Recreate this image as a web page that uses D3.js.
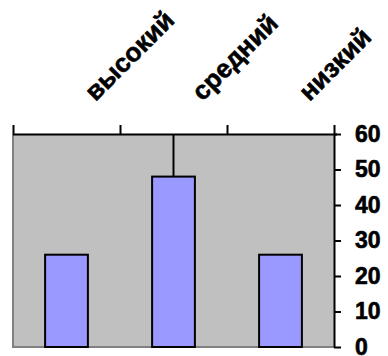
<!DOCTYPE html>
<html>
<head>
<meta charset="utf-8">
<script src="https://cdn.jsdelivr.net/npm/d3@7"></script>
<style>
  html, body { margin: 0; padding: 0; background: #fff; }
  svg { display: block; }
</style>
</head>
<body>
<svg id="chart" width="388" height="356"></svg>
<script>
// Уровни и доли (в процентах)
const categories = ["высокий", "средний", "низкий"];
const values = [26, 48, 26];
const errorPlus = [0, 12, 0];
const yTicks = [0, 10, 20, 30, 40, 50, 60];

const FONT = "Liberation Sans";
const plot = { left: 13, right: 334, top: 134, bottom: 347 };

const svg = d3.select("#chart");

const x = d3.scaleBand()
  .domain(categories)
  .range([plot.left, plot.right])
  .paddingInner(0.6)
  .paddingOuter(0.3);

const y = d3.scaleLinear()
  .domain([0, 60])
  .range([plot.bottom, plot.top]);

// Plot area background
svg.append("rect")
  .attr("x", plot.left)
  .attr("y", plot.top)
  .attr("width", plot.right - plot.left)
  .attr("height", plot.bottom - plot.top)
  .attr("fill", "#c0c0c0");

// Gray frame on left and bottom edges
svg.append("path")
  .attr("d", `M${plot.left},${plot.top} V${plot.bottom} H${plot.right}`)
  .attr("fill", "none")
  .attr("stroke", "#808080")
  .attr("stroke-width", 2);

// Bars
svg.append("g").selectAll("rect")
  .data(categories)
  .join("rect")
  .attr("x", d => x(d))
  .attr("y", (d, i) => y(values[i]))
  .attr("width", x.bandwidth())
  .attr("height", (d, i) => y(0) - y(values[i]))
  .attr("fill", "#9999ff")
  .attr("stroke", "#000")
  .attr("stroke-width", 2);

// Upper error bars, clipped at the top of the plot area
const withErr = categories.map((c, i) => ({ c, v: values[i], e: errorPlus[i] })).filter(d => d.e > 0);
svg.append("g").selectAll("line")
  .data(withErr)
  .join("line")
  .attr("x1", d => x(d.c) + x.bandwidth() / 2)
  .attr("x2", d => x(d.c) + x.bandwidth() / 2)
  .attr("y1", d => y(d.v))
  .attr("y2", d => y(Math.min(60, d.v + d.e)))
  .attr("stroke", "#000")
  .attr("stroke-width", 2);

// Top category axis: tick marks at band boundaries
const edge = d3.scaleLinear().domain([0, categories.length]).range([plot.left, plot.right]);
const topAxis = svg.append("g")
  .attr("transform", `translate(0,${plot.top})`)
  .call(d3.axisTop(edge).tickValues(d3.range(categories.length + 1)).tickFormat("").tickSize(9).tickSizeOuter(0));
topAxis.select(".domain").attr("stroke", "#000").attr("stroke-width", 2)
  .attr("d", `M${plot.left},0.5H${plot.right + 3}`);
topAxis.selectAll(".tick line").attr("stroke", "#000").attr("stroke-width", 2);

// Rotated category labels
svg.append("g").selectAll("text")
  .data(categories)
  .join("text")
  .attr("transform", d => `translate(${x(d) + x.bandwidth() / 2 + 29},${102}) rotate(-45)`)
  .attr("text-anchor", "start")
  .attr("font-family", FONT)
  .attr("font-weight", "bold")
  .attr("font-size", 26)
  .attr("fill", "#000")
  .attr("stroke", "#000")
  .attr("stroke-width", 0.6)
  .text(d => d);

// Right value axis
const rightAxis = svg.append("g")
  .attr("transform", `translate(${plot.right},0)`)
  .call(d3.axisRight(y).tickValues(yTicks).tickSize(7).tickSizeOuter(0).tickPadding(14));
rightAxis.select(".domain").attr("stroke", "#000").attr("stroke-width", 2);
rightAxis.selectAll(".tick line").attr("stroke", "#000").attr("stroke-width", 2);
rightAxis.selectAll(".tick text")
  .attr("font-size", 23)
  .attr("font-family", FONT)
  .attr("font-weight", "bold")
  .attr("fill", "#000")
  .attr("stroke", "#000")
  .attr("stroke-width", 0.6);
</script>
</body>
</html>
